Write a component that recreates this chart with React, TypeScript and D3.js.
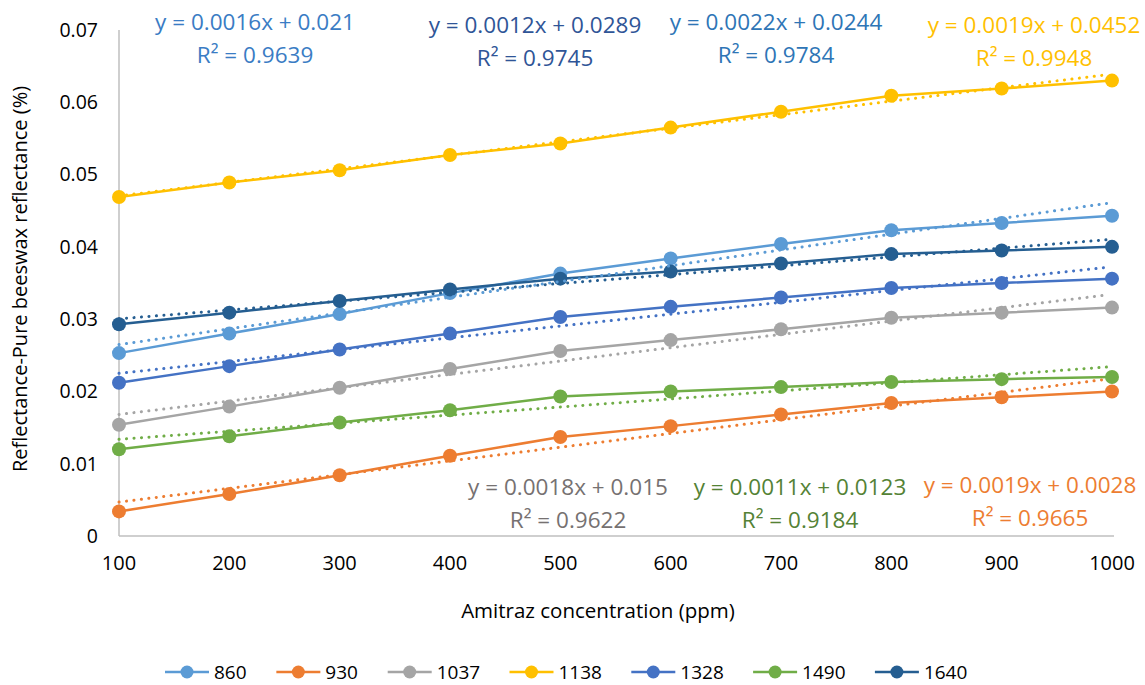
import React from "react";
import * as d3 from "d3";

const categories = ["100", "200", "300", "400", "500", "600", "700", "800", "900", "1000"];
const seriesNames = ["860", "930", "1037", "1138", "1328", "1490", "1640"];
const seriesColors = ["#5B9BD5", "#ED7D31", "#A5A5A5", "#FFC000", "#4472C4", "#70AD47", "#255E91"];

const s860 = [0.0253, 0.0280, 0.0307, 0.0336, 0.0363, 0.0384, 0.0404, 0.0423, 0.0433, 0.0443];
const s930 = [0.0034, 0.0058, 0.0084, 0.0111, 0.0137, 0.0152, 0.0168, 0.0184, 0.0192, 0.0200];
const s1037 = [0.0154, 0.0179, 0.0205, 0.0231, 0.0256, 0.0271, 0.0286, 0.0302, 0.0309, 0.0316];
const s1138 = [0.0469, 0.0489, 0.0506, 0.0527, 0.0543, 0.0565, 0.0587, 0.0609, 0.0619, 0.0630];
const s1328 = [0.0212, 0.0235, 0.0258, 0.0280, 0.0303, 0.0317, 0.0330, 0.0343, 0.0350, 0.0356];
const s1490 = [0.0120, 0.0138, 0.0157, 0.0174, 0.0193, 0.0200, 0.0206, 0.0213, 0.0217, 0.0220];
const s1640 = [0.0293, 0.0309, 0.0325, 0.0341, 0.0356, 0.0366, 0.0377, 0.0390, 0.0395, 0.0400];
const seriesValues = [s860, s930, s1037, s1138, s1328, s1490, s1640];

const yTicks = [0, 0.01, 0.02, 0.03, 0.04, 0.05, 0.06, 0.07];

const trendEq = ["y = 0.0022x + 0.0244", "y = 0.0019x + 0.0028", "y = 0.0018x + 0.015", "y = 0.0019x + 0.0452", "y = 0.0016x + 0.021", "y = 0.0011x + 0.0123", "y = 0.0012x + 0.0289"];
const trendR2 = ["R² = 0.9784", "R² = 0.9665", "R² = 0.9622", "R² = 0.9948", "R² = 0.9639", "R² = 0.9184", "R² = 0.9745"];
const labelColors = ["#2E75B6", "#ED7D31", "#767171", "#FFC000", "#3A7CC4", "#548235", "#2F5597"];
const labelPos: [number, number][] = [
  [776, 22], [1030, 485], [568, 487], [1034, 25], [255, 22], [800, 487], [535, 25],
];

const W = 1145, H = 685;
const FONT = "'Open Sans', 'Noto Sans', sans-serif";

function fit(vals: number[]) {
  const xs = vals.map((_, i) => i + 1);
  const mx = d3.mean(xs)!, my = d3.mean(vals)!;
  let num = 0, den = 0;
  xs.forEach((x, i) => { num += (x - mx) * (vals[i] - my); den += (x - mx) ** 2; });
  const b = num / den;
  return { b, a: my - b * mx };
}

export default function App() {
  const x = d3.scalePoint<string>().domain(categories).range([119, 1112]);
  const y = d3.scaleLinear().domain([0, 0.07]).range([536, 30]);
  const line = d3.line<number>().x((_, i) => x(categories[i])!).y((d) => y(d));

  const legendFont = 19;
  let lx = 165;
  const legendItems = seriesNames.map((n, i) => {
    const item = { x: lx, name: n, color: seriesColors[i] };
    lx += 44 + 6 + n.length * 0.55 * legendFont + 30;
    return item;
  });

  return (
    <>
      <style>{`body{margin:0}`}</style>
      <svg width={W} height={H} style={{ display: "block", background: "#fff" }} fontFamily={FONT}>
        <line x1={119} x2={119} y1={30} y2={536} stroke="#BFBFBF" strokeWidth={1.5} />
        <line x1={119} x2={1114} y1={536} y2={536} stroke="#BFBFBF" strokeWidth={1.5} />
        {yTicks.map((t) => (
          <text key={t} x={98} y={y(t)} dy="0.35em" textAnchor="end" fontSize={19.5} fill="#000">
            {t === 0 ? "0" : d3.format(".2f")(t)}
          </text>
        ))}
        {categories.map((c) => (
          <text key={c} x={x(c)} y={563} dy="0.35em" textAnchor="middle" fontSize={20} fill="#000">{c}</text>
        ))}
        <text x={598} y={611} dy="0.35em" textAnchor="middle" fontSize={20.5} fill="#000">Amitraz concentration (ppm)</text>
        <text transform="translate(20,279) rotate(-90)" dy="0.35em" textAnchor="middle" fontSize={20} fill="#000">
          Reflectance-Pure beeswax reflectance (%)
        </text>

        {seriesValues.map((vals, si) => (
          <g key={si}>
            <path d={line(vals)!} fill="none" stroke={seriesColors[si]} strokeWidth={2.5} />
            {vals.map((v, i) => (
              <circle key={i} cx={x(categories[i])} cy={y(v)} r={7} fill={seriesColors[si]} />
            ))}
          </g>
        ))}
        {seriesValues.map((vals, si) => {
          const { a, b } = fit(vals);
          return (
            <line key={si} x1={x(categories[0])} y1={y(a + b * 1)} x2={x(categories[9])! - 4} y2={y(a + b * 10)}
              stroke={seriesColors[si]} strokeWidth={3} strokeDasharray="0.1 7.4" strokeLinecap="round" />
          );
        })}

        {trendEq.map((eq, i) => (
          <g key={i}>
            <text x={labelPos[i][0]} y={labelPos[i][1]} dy="0.35em" textAnchor="middle" fontSize={22.5} fill={labelColors[i]}>{eq}</text>
            <text x={labelPos[i][0]} y={labelPos[i][1] + 33} dy="0.35em" textAnchor="middle" fontSize={22.5} fill={labelColors[i]}>{trendR2[i]}</text>
          </g>
        ))}

        {legendItems.map((it) => (
          <g key={it.name}>
            <line x1={it.x} x2={it.x + 44} y1={672} y2={672} stroke={it.color} strokeWidth={2.5} />
            <circle cx={it.x + 22} cy={672} r={6.5} fill={it.color} />
            <text x={it.x + 49} y={672} dy="0.35em" fontSize={legendFont} fill="#000">{it.name}</text>
          </g>
        ))}
      </svg>
    </>
  );
}
